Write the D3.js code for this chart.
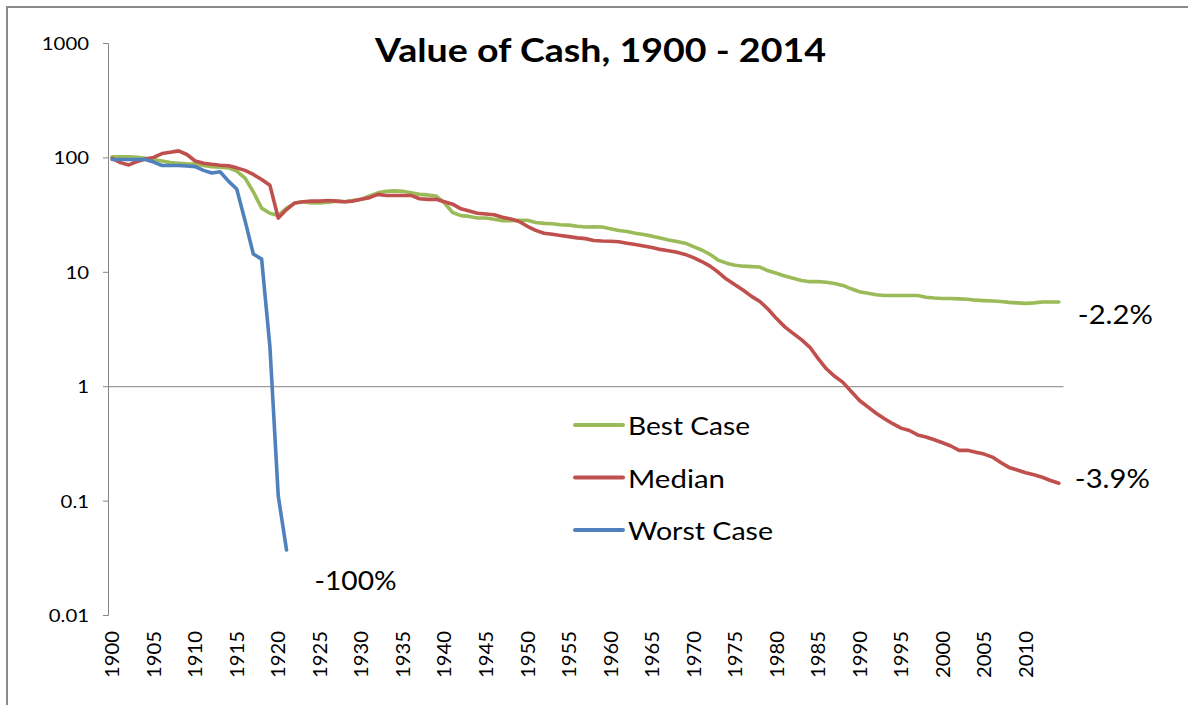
<!DOCTYPE html>
<html><head><meta charset="utf-8">
<script src="https://cdn.jsdelivr.net/npm/d3@7"></script>
<style>
html,body{margin:0;padding:0;background:#fff;}
svg{display:block;}
text{font-family:Lato,'Open Sans','DejaVu Sans',sans-serif;fill:#000;}
</style>
</head><body>
<svg id="chart" width="1188" height="705"></svg>
<script>
// ---------------- data ----------------
const years = d3.range(1900, 2015);
const bestCase = [
  101,101,101,100,98,96,93,90,89,88,
  87.5,85,83,82,81,76,66,50,36,32.5,
  31,36,40,41,40,40,40.5,41.5,41,42,
  43,46,49,50.5,51,50.5,49,47.5,47,46,
  40,33,31,30.5,29.5,29.5,28.8,28,28,28.2,
  28.2,27,26.5,26.3,25.8,25.6,25,24.6,24.8,24.6,
  23.8,23,22.5,21.7,21.2,20.5,19.7,19,18.4,17.8,
  16.6,15.5,14.2,12.6,11.9,11.4,11.2,11.1,11.0,10.2,
  9.7,9.2,8.8,8.4,8.2,8.2,8.1,7.9,7.6,7.1,
  6.7,6.5,6.3,6.2,6.2,6.2,6.2,6.2,6.0,5.9,
  5.85,5.85,5.8,5.75,5.65,5.6,5.55,5.5,5.4,5.35,
  5.3,5.35,5.45,5.45,5.45
];
const median = [
  98,90,86,92,97,100,108,111,114,106,
  93,89,87,85.5,84.5,81,77,71,64,57,
  29.5,35,40,41,41.5,41.5,42,41.5,41,41.5,
  43,44.5,47.5,46.5,46.5,46.5,46.5,43.5,43,43,
  41,39,35.5,34,32.5,32,31.5,30,29,27.5,
  25,23,21.7,21.3,20.8,20.3,19.8,19.5,18.8,18.6,
  18.5,18.3,17.8,17.3,16.8,16.3,15.7,15.3,14.8,14.2,
  13.3,12.3,11.2,9.9,8.6,7.7,6.9,6.1,5.5,4.7,
  3.9,3.3,2.9,2.55,2.2,1.75,1.42,1.22,1.08,0.9,
  0.75,0.66,0.58,0.52,0.47,0.43,0.41,0.375,0.36,0.34,
  0.32,0.30,0.275,0.275,0.265,0.255,0.24,0.215,0.195,0.185,
  0.175,0.168,0.16,0.15,0.142
];
const worstCase = [
  96,96,96,96,96,91,85,85,85,84,
  83,77,73,75,62,53,28,14.3,12.9,2.2,
  0.11,0.037
];
const yTickValues = [0.01, 0.1, 1, 10, 100, 1000];
const yTickLabels = ["0.01", "0.1", "1", "10", "100", "1000"];
const xTickYears = d3.range(1900, 2011, 5);
const seriesNames = ["Best Case", "Median", "Worst Case"];
const seriesColors = ["#9BBB59", "#C0504D", "#4F81BD"];
const endLabels = ["-2.2%", "-3.9%", "-100%"];
const titleText = "Value of Cash, 1900 - 2014";

// ---------------- layout ----------------
const svg = d3.select("#chart");
const plot = {left: 108, right: 1063, top: 43, bottom: 615};
const axisColor = "#868686";

svg.append("rect").attr("width", 1188).attr("height", 705).attr("fill", "#fff");
// outer chart frame (only top/left visible)
svg.append("rect").attr("x", 7).attr("y", 7).attr("width", 1300).attr("height", 800)
  .attr("fill", "none").attr("stroke", "#8a8a8a").attr("stroke-width", 2);

const x = d3.scalePoint().domain(years).range([plot.left, plot.right]).padding(0.5);
const y = d3.scaleLog().domain([0.01, 1000]).range([plot.bottom, plot.top]);

function stretch(sel, factor) {
  sel.each(function() {
    const w = this.getComputedTextLength();
    d3.select(this).attr("textLength", w * factor).attr("lengthAdjust", "spacingAndGlyphs");
  });
}

// y axis
const yAxis = d3.axisLeft(y).tickValues(yTickValues)
  .tickFormat((d, i) => yTickLabels[yTickValues.indexOf(d)]).tickSize(5).tickPadding(14);
const gy = svg.append("g").attr("transform", `translate(${plot.left},0)`).call(yAxis);
gy.select(".domain").attr("stroke", axisColor);
gy.selectAll(".tick line").attr("stroke", axisColor);
gy.selectAll(".tick text").attr("font-size", 18).attr("font-family", null).attr("fill", "#000")
  .attr("dy", "0.36em");
stretch(gy.selectAll(".tick text"), 1.13);

// horizontal axis line at value 1 (no ticks, no labels)
const xLine = d3.axisBottom(x).tickValues([]).tickSizeOuter(0);
const gxl = svg.append("g").attr("transform", `translate(0,${y(1)})`).call(xLine);
gxl.select(".domain").attr("stroke", axisColor);

// category labels at the bottom ("low" position)
const xLabels = d3.axisBottom(x).tickValues(xTickYears).tickSize(0);
const gx = svg.append("g").attr("transform", `translate(0,631)`).call(xLabels);
gx.select(".domain").remove();
gx.selectAll(".tick text")
  .attr("font-size", 18.5).attr("font-family", null).attr("fill", "#000")
  .attr("text-anchor", "end")
  .attr("transform", "rotate(-90)")
  .attr("x", 0).attr("y", 0).attr("dy", "0.36em");
gx.selectAll(".tick text").attr("textLength", 47).attr("lengthAdjust", "spacingAndGlyphs");

// series
const allSeries = [bestCase, median, worstCase];
const line = d3.line().x((d, i) => x(years[i])).y(d => y(d));
allSeries.forEach((vals, k) => {
  svg.append("path").datum(vals)
    .attr("d", line)
    .attr("fill", "none")
    .attr("stroke", seriesColors[k])
    .attr("stroke-width", 3.6)
    .attr("stroke-linejoin", "round")
    .attr("stroke-linecap", "round");
});

// end labels, offset from last point of each series
const endOffsets = [[19, 22], [16, 5], [28, 40]];
const endWidths = [75, 75, 82];
allSeries.forEach((vals, k) => {
  const i = vals.length - 1;
  svg.append("text")
    .attr("x", x(years[i]) + endOffsets[k][0])
    .attr("y", y(vals[i]) + endOffsets[k][1])
    .attr("font-size", 26.5)
    .attr("textLength", endWidths[k]).attr("lengthAdjust", "spacingAndGlyphs")
    .text(endLabels[k]);
});

// legend
const legendWidths = [122, 97, 145];
const lg = svg.append("g").attr("transform", "translate(575,425)");
seriesNames.forEach((name, k) => {
  const g = lg.append("g").attr("transform", `translate(0,${k * 52.5})`);
  g.append("line").attr("x1", 0).attr("x2", 48).attr("y1", 0).attr("y2", 0)
    .attr("stroke", seriesColors[k]).attr("stroke-width", 4).attr("stroke-linecap", "round");
  g.append("text").attr("x", 53).attr("y", 10).attr("font-size", 25)
    .attr("textLength", legendWidths[k]).attr("lengthAdjust", "spacingAndGlyphs")
    .text(name);
});

// title
svg.append("text").attr("x", 600.5).attr("y", 62).attr("text-anchor", "middle")
  .attr("font-size", 32).attr("font-weight", "bold")
  .attr("textLength", 451).attr("lengthAdjust", "spacingAndGlyphs")
  .text(titleText);
</script>
</body></html>
